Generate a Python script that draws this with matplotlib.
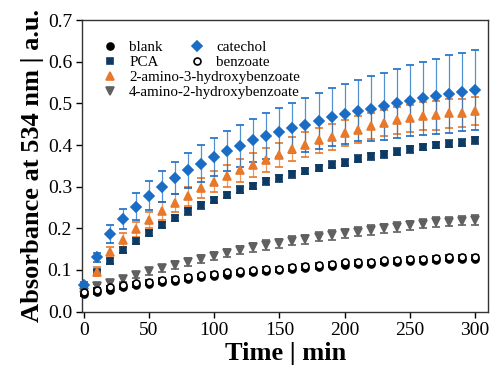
import matplotlib
matplotlib.use("Agg")
import matplotlib.pyplot as plt
import numpy as np

plt.rcParams['font.family'] = ['Liberation Serif', 'DejaVu Serif']
plt.rcParams['mathtext.fontset'] = 'stix'

time = list(range(0, 301, 10))

blank = [0.042, 0.047, 0.053, 0.058, 0.063, 0.067, 0.071, 0.074, 0.078, 0.082, 0.086, 0.089, 0.092,
         0.094, 0.097, 0.099, 0.102, 0.105, 0.107, 0.110, 0.113, 0.114, 0.115, 0.118, 0.119, 0.122,
         0.122, 0.124, 0.126, 0.126, 0.127]
blank_err = [0.004] * 31

pca = [0.060, 0.094, 0.122, 0.147, 0.169, 0.189, 0.208, 0.225, 0.241, 0.255, 0.268, 0.280, 0.293,
       0.302, 0.313, 0.320, 0.330, 0.338, 0.345, 0.353, 0.358, 0.367, 0.373, 0.378, 0.384, 0.390,
       0.395, 0.400, 0.403, 0.406, 0.411]
pca_err = [0.005, 0.006, 0.007, 0.007, 0.007, 0.008, 0.008, 0.008, 0.008, 0.008, 0.008, 0.008, 0.008,
           0.008, 0.008, 0.008, 0.008, 0.008, 0.008, 0.008, 0.008, 0.008, 0.008, 0.008, 0.008, 0.008,
           0.008, 0.008, 0.008, 0.008, 0.008]

aminohb23 = [0.056, 0.096, 0.142, 0.172, 0.198, 0.220, 0.242, 0.261, 0.277, 0.296, 0.312, 0.325, 0.339,
             0.352, 0.364, 0.376, 0.390, 0.401, 0.411, 0.419, 0.429, 0.437, 0.446, 0.453, 0.459, 0.464,
             0.470, 0.471, 0.476, 0.477, 0.481]
aminohb23_err = [0.008, 0.010, 0.014, 0.016, 0.018, 0.020, 0.021, 0.022, 0.023, 0.024, 0.025, 0.026, 0.027,
                 0.028, 0.028, 0.029, 0.029, 0.030, 0.030, 0.031, 0.031, 0.032, 0.032, 0.032, 0.033, 0.033,
                 0.033, 0.034, 0.034, 0.034, 0.034]

aminohb42 = [0.048, 0.062, 0.068, 0.078, 0.088, 0.097, 0.104, 0.112, 0.119, 0.126, 0.134, 0.140, 0.148,
             0.154, 0.160, 0.164, 0.170, 0.174, 0.180, 0.184, 0.188, 0.192, 0.196, 0.200, 0.203, 0.207,
             0.211, 0.215, 0.216, 0.218, 0.220]
aminohb42_err = [0.004, 0.005, 0.006, 0.007, 0.008, 0.008, 0.009, 0.009, 0.009, 0.010, 0.010, 0.010, 0.010,
                 0.010, 0.011, 0.011, 0.011, 0.011, 0.011, 0.011, 0.011, 0.011, 0.011, 0.011, 0.011, 0.011,
                 0.011, 0.011, 0.011, 0.011, 0.011]

catechol = [0.064, 0.130, 0.186, 0.222, 0.252, 0.278, 0.300, 0.321, 0.339, 0.355, 0.371, 0.385, 0.398,
            0.411, 0.422, 0.431, 0.441, 0.449, 0.458, 0.467, 0.474, 0.482, 0.487, 0.493, 0.500, 0.506,
            0.512, 0.517, 0.522, 0.527, 0.531]
catechol_err = [0.006, 0.010, 0.021, 0.024, 0.033, 0.035, 0.037, 0.039, 0.042, 0.044, 0.046, 0.048, 0.051,
                0.052, 0.055, 0.059, 0.061, 0.065, 0.067, 0.069, 0.072, 0.073, 0.078, 0.081, 0.083, 0.085,
                0.088, 0.090, 0.093, 0.094, 0.096]

benzoate = [0.046, 0.052, 0.058, 0.063, 0.068, 0.072, 0.076, 0.079, 0.083, 0.087, 0.091, 0.094, 0.097,
            0.099, 0.102, 0.103, 0.107, 0.110, 0.112, 0.115, 0.118, 0.119, 0.120, 0.123, 0.124, 0.127,
            0.127, 0.129, 0.131, 0.131, 0.132]
benzoate_err = [0.004] * 31

fig = plt.figure(figsize=(4.91, 3.71), dpi=100)
ax = fig.add_axes([0.168, 0.160, 0.826, 0.786])

series = [
    ("blank", blank, blank_err, 'o', 'black', 'black', 5),
    ("PCA", pca, pca_err, 's', '#0d3a63', '#0d3a63', 5),
    ("2-amino-3-hydroxybenzoate", aminohb23, aminohb23_err, '^', '#e8782a', '#e8782a', 5.5),
    ("4-amino-2-hydroxybenzoate", aminohb42, aminohb42_err, 'v', '#606060', '#606060', 5.5),
    ("catechol", catechol, catechol_err, 'D', '#1a6cc4', '#1a6cc4', 5),
    ("benzoate", benzoate, benzoate_err, 'o', 'white', 'black', 5),
]

handles = {}
for name, y, e, m, fc, ec, ms in series:
    eb = ax.errorbar(time, y, yerr=e, fmt=m, ms=ms, mfc=fc, mec=ec, mew=1.2,
                     ecolor=ec, elinewidth=0.9, capsize=3, capthick=1.0, label=name,
                     clip_on=False, zorder=3)
    for ln in eb[2]:
        ln.set_alpha(0.75)
    handles[name] = eb[0]

ax.set_xlim(-1, 310)
ax.set_ylim(0, 0.7)
ax.set_xticks(np.arange(0, 301, 50))
ax.set_yticks(np.arange(0, 0.71, 0.1))
ax.set_yticklabels([f"{v:.1f}" for v in np.arange(0, 0.71, 0.1)])
ax.tick_params(direction='out', length=4, width=1, labelsize=14, top=False, right=False)
for s in ax.spines.values():
    s.set_linewidth(1.0)
    s.set_color('#333333')

ax.set_xlabel("Time | min", fontsize=19, fontweight='bold', labelpad=2)
ax.set_ylabel("Absorbance at 534 nm | a.u.", fontsize=19, fontweight='bold', labelpad=3)

col1 = ["blank", "PCA", "2-amino-3-hydroxybenzoate", "4-amino-2-hydroxybenzoate"]
col2 = ["catechol", "benzoate"]
leg_kw = dict(frameon=False, fontsize=10.8, labelspacing=0.1, handletextpad=0.7,
              handlelength=1.2, borderaxespad=0.0, borderpad=0.0)
leg1 = ax.legend([handles[n] for n in col1], col1, loc='upper left',
                 bbox_to_anchor=(0.045, 0.93), **leg_kw)
ax.add_artist(leg1)
ax.legend([handles[n] for n in col2], col2, loc='upper left',
          bbox_to_anchor=(0.26, 0.93), **leg_kw)

fig.savefig("out.png", dpi=100)
